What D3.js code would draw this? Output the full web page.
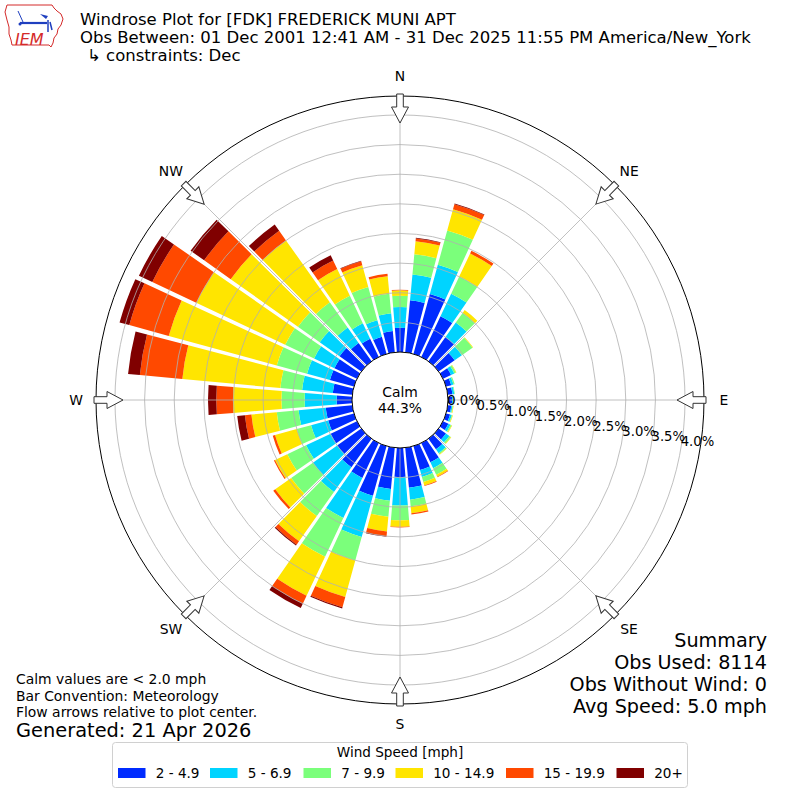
<!DOCTYPE html>
<html>
<head>
<meta charset="utf-8">
<script src="https://cdn.jsdelivr.net/npm/d3@7"></script>
<style>
  body { margin: 0; background: #fff; }
  svg { display: block; }
  text { font-family: "DejaVu Sans", sans-serif; fill: #000; }
</style>
</head>
<body>
<svg id="chart" width="800" height="800"></svg>
<script>
// direction bins (degrees, meteorological)
const directions = [0, 10, 20, 30, 40, 50, 60, 70, 80, 90, 100, 110, 120, 130, 140, 150, 160, 170,
                    180, 190, 200, 210, 220, 230, 240, 250, 260, 270, 280, 290, 300, 310, 320, 330, 340, 350];

const speedBins = ["2 - 4.9", "5 - 6.9", "7 - 9.9", "10 - 14.9", "15 - 19.9", "20+"];
const binColors = ["#002bff", "#00d4ff", "#7bff7b", "#ffe500", "#ff4900", "#800000"];

// percent of obs in each speed bin, per direction
const pct2to5 = [0.41, 0.88, 1.05, 0.76, 0.50, 0.33, 0.15, 0.09, 0.08, 0.07, 0.06, 0.07, 0.10, 0.15, 0.22, 0.36, 0.42, 0.68,
                 0.49, 0.70, 0.87, 0.65, 0.59, 0.50, 0.49, 0.45, 0.45, 0.26, 0.33, 0.42, 0.42, 0.45, 0.38, 0.34, 0.30, 0.36];
const pct5to7 = [0.35, 0.44, 0.51, 0.42, 0.30, 0.15, 0.06, 0.04, 0.03, 0.02, 0.02, 0.03, 0.04, 0.07, 0.08, 0.11, 0.12, 0.20,
                 0.48, 0.20, 0.72, 0.75, 0.51, 0.50, 0.46, 0.30, 0.46, 0.54, 0.52, 0.40, 0.38, 0.41, 0.32, 0.29, 0.29, 0.30];
const pct7to10 = [0.19, 0.34, 0.60, 0.32, 0.20, 0.22, 0.03, 0.02, 0.01, 0.01, 0.01, 0.01, 0.02, 0.03, 0.02, 0.12, 0.09, 0.11,
                  0.25, 0.27, 0.41, 0.72, 0.50, 0.45, 0.35, 0.25, 0.37, 0.39, 0.37, 0.53, 0.54, 0.45, 0.52, 0.51, 0.58, 0.33];
const pct10to15 = [0.09, 0.22, 0.37, 0.43, 0.06, 0.01, 0.01, 0, 0, 0, 0.01, 0.01, 0.01, 0.01, 0.01, 0.04, 0.06, 0.12,
                   0.11, 0.25, 0.64, 0.73, 0.52, 0.33, 0.23, 0.38, 0.43, 0.82, 1.66, 1.89, 1.66, 1.39, 1.28, 0.50, 0.38, 0.30];
const pct15to20 = [0.01, 0.05, 0.09, 0.05, 0, 0, 0, 0, 0, 0, 0, 0, 0, 0, 0, 0.01, 0.01, 0.02,
                   0.01, 0.08, 0.18, 0.15, 0.07, 0.04, 0.02, 0.04, 0.11, 0.28, 0.72, 0.69, 0.82, 0.55, 0.20, 0.16, 0.07, 0.04];
const pct20up = [0, 0.01, 0.01, 0, 0, 0, 0, 0, 0, 0, 0, 0, 0, 0, 0, 0, 0, 0,
                 0, 0.01, 0.02, 0.08, 0.02, 0, 0, 0, 0.13, 0.14, 0.20, 0.17, 0.25, 0.28, 0.13, 0.10, 0.01, 0];

const ringTicks = [0.0, 0.5, 1.0, 1.5, 2.0, 2.5, 3.0, 3.5, 4.0];
const compass = [["N", 0], ["NE", 45], ["E", 90], ["SE", 135], ["S", 180], ["SW", 225], ["W", 270], ["NW", 315]];

const calmPct = "44.3%";
const summaryLines = ["Summary", "Obs Used: 8114", "Obs Without Wind: 0", "Avg Speed: 5.0 mph"];
const noteLines = ["Calm values are < 2.0 mph", "Bar Convention: Meteorology", "Flow arrows relative to plot center."];

const svg = d3.select("#chart");
const cx = 400, cy = 400;
const outerR = 304;
const rad = Math.PI / 180;

const r = d3.scaleLinear().domain([0, 4.32]).range([48, outerR]);

// ---- stacked bars
const table = directions.map((d, i) => ({
    dir: d,
    b0: pct2to5[i], b1: pct5to7[i], b2: pct7to10[i],
    b3: pct10to15[i], b4: pct15to20[i], b5: pct20up[i]
}));
const keys = ["b0", "b1", "b2", "b3", "b4", "b5"];
const series = d3.stack().keys(keys)(table);

const plot = svg.append("g").attr("transform", `translate(${cx},${cy})`);

const arc = d3.arc()
    .innerRadius(d => r(d[0]))
    .outerRadius(d => r(d[1]))
    .startAngle(d => (d.data.dir - 4.7) * rad)
    .endAngle(d => (d.data.dir + 4.7) * rad)
    .padAngle(0.016)
    .padRadius(100);

plot.selectAll("g.layer")
    .data(series)
    .join("g")
    .attr("class", "layer")
    .attr("fill", (d, i) => binColors[i])
    .selectAll("path")
    .data(d => d.filter(v => v[1] - v[0] > 0))
    .join("path")
    .attr("d", arc);

// ---- grid over the bars
plot.selectAll("circle.ring")
    .data(ringTicks.slice(1))
    .join("circle")
    .attr("class", "ring")
    .attr("r", d => r(d))
    .attr("fill", "none")
    .attr("stroke", "#b0b0b0")
    .attr("stroke-width", 0.8);

plot.selectAll("line.spoke")
    .data(compass)
    .join("line")
    .attr("class", "spoke")
    .attr("x1", d => r(0) * Math.sin(d[1] * rad))
    .attr("y1", d => -r(0) * Math.cos(d[1] * rad))
    .attr("x2", d => outerR * Math.sin(d[1] * rad))
    .attr("y2", d => -outerR * Math.cos(d[1] * rad))
    .attr("stroke", "#b0b0b0")
    .attr("stroke-width", 0.8);

plot.append("circle")
    .attr("r", outerR)
    .attr("fill", "none")
    .attr("stroke", "#000")
    .attr("stroke-width", 1);

// calm circle
plot.append("circle")
    .attr("r", r(0))
    .attr("fill", "#fff")
    .attr("stroke", "#000")
    .attr("stroke-width", 1);
plot.append("text").attr("x", 0).attr("y", -3).attr("text-anchor", "middle")
    .attr("font-size", 13.9).text("Calm");
plot.append("text").attr("x", 0).attr("y", 13).attr("text-anchor", "middle")
    .attr("font-size", 13.9).text(calmPct);

// ring labels
const labelAng = 100 * rad;
plot.selectAll("text.rlab")
    .data(ringTicks)
    .join("text")
    .attr("class", "rlab")
    .attr("x", d => r(d) * Math.sin(labelAng))
    .attr("y", d => -r(d) * Math.cos(labelAng) - 3)
    .attr("font-size", 13.2)
    .text(d => d.toFixed(1) + "%");

// compass arrows (hollow, pointing to center) and labels
const arrowPts = [[0, -277], [8.5, -293], [3.3, -293], [3.3, -306], [-3.3, -306], [-3.3, -293], [-8.5, -293]];
plot.selectAll("polygon.arrow")
    .data(compass)
    .join("polygon")
    .attr("class", "arrow")
    .attr("points", arrowPts.map(p => p.join(",")).join(" "))
    .attr("transform", d => `rotate(${d[1]})`)
    .attr("fill", "#fff")
    .attr("stroke", "#333")
    .attr("stroke-width", 1);

plot.selectAll("text.compass")
    .data(compass)
    .join("text")
    .attr("class", "compass")
    .attr("x", d => 324 * Math.sin(d[1] * rad))
    .attr("y", d => -324 * Math.cos(d[1] * rad) + 5)
    .attr("text-anchor", "middle")
    .attr("font-size", 13.9)
    .text(d => d[0]);

// ---- titles
svg.append("text").attr("x", 80).attr("y", 25).attr("font-size", 16.5)
    .text("Windrose Plot for [FDK] FREDERICK MUNI APT");
svg.append("text").attr("x", 80).attr("y", 43).attr("font-size", 16.5)
    .text("Obs Between: 01 Dec 2001 12:41 AM - 31 Dec 2025 11:55 PM America/New_York");
svg.append("text").attr("x", 87).attr("y", 61).attr("font-size", 16.5)
    .text("\u21b3 constraints: Dec");

// ---- notes, bottom left
svg.selectAll("text.note")
    .data(noteLines)
    .join("text")
    .attr("class", "note")
    .attr("x", 16)
    .attr("y", (d, i) => 684 + i * 16.5)
    .attr("font-size", 13.9)
    .text(d => d);
svg.append("text").attr("x", 16).attr("y", 737).attr("font-size", 19.4)
    .text("Generated: 21 Apr 2026");

// ---- summary, bottom right
svg.selectAll("text.summary")
    .data(summaryLines)
    .join("text")
    .attr("class", "summary")
    .attr("x", 767)
    .attr("y", (d, i) => 647 + i * 22)
    .attr("text-anchor", "end")
    .attr("font-size", 19.2)
    .text(d => d);

// ---- legend
const leg = svg.append("g");
leg.append("rect")
    .attr("x", 112.5).attr("y", 742.5).attr("width", 575).attr("height", 45)
    .attr("rx", 3).attr("fill", "#fff").attr("stroke", "#d0d0d0");
leg.append("text").attr("x", 400).attr("y", 757).attr("text-anchor", "middle")
    .attr("font-size", 13.6).text("Wind Speed [mph]");
const legX = [118, 210, 303.5, 395.5, 506, 616.5];
const items = leg.selectAll("g.item")
    .data(speedBins)
    .join("g")
    .attr("class", "item")
    .attr("transform", (d, i) => `translate(${legX[i]},768)`);
items.append("rect").attr("width", 27.5).attr("height", 10).attr("fill", (d, i) => binColors[i]);
items.append("text").attr("x", 37.7).attr("y", 10).attr("font-size", 13.6).text(d => d);

// ---- IEM logo (rough)
const logo = svg.append("g");
logo.append("path")
    .attr("d", "M7,5 L52,5 L54,8 L57,11 L61,14 L63,19 L61,25 L58,29 L57,34 L54,38 L53,43 L51,47 L49,45 L12,45 L11,40 L9,34 L9,27 L7,20 L5,12 Z")
    .attr("fill", "none").attr("stroke", "#d42a2a").attr("stroke-width", 1);
logo.append("line").attr("x1", 20).attr("y1", 23).attr("x2", 47).attr("y2", 23)
    .attr("stroke", "#1f3fbf").attr("stroke-width", 2.2);
logo.append("line").attr("x1", 18).attr("y1", 11).attr("x2", 23).attr("y2", 22)
    .attr("stroke", "#1f3fbf").attr("stroke-width", 1);
logo.append("path").attr("d", "M40,14 L48,16 L46,19 Z").attr("fill", "#1f3fbf");
logo.append("path").attr("d", "M48,20 L48,32 M50,22 L52,30").attr("stroke", "#1f3fbf").attr("stroke-width", 1.5);
logo.append("circle").attr("cx", 20).attr("cy", 24).attr("r", 1.5).attr("fill", "#1f3fbf");
logo.append("text").attr("x", 15).attr("y", 45)
    .attr("font-family", "'DejaVu Serif', serif").attr("font-style", "italic")
    .attr("font-size", 16).style("fill", "#d42a2a").text("IEM");
</script>
</body>
</html>
